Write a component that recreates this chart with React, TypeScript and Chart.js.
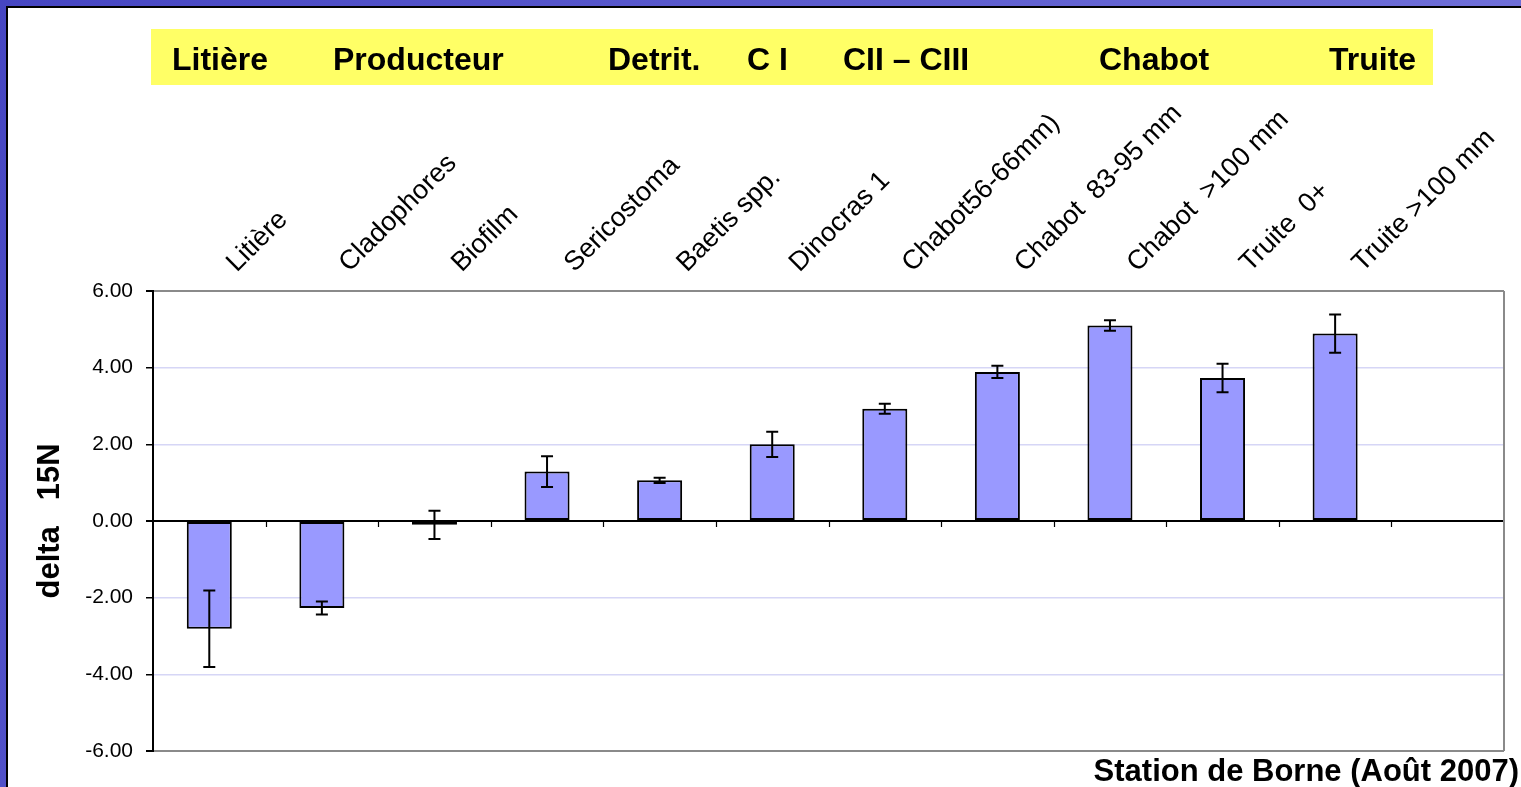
import { useEffect, useRef } from 'react';
import { Chart, registerables } from 'chart.js';

Chart.register(...registerables);

// Taxa sampled, in trophic order (the last slot is left empty)
const categories = [
  'Litière',
  'Cladophores',
  'Biofilm',
  'Sericostoma',
  'Baetis spp.',
  'Dinocras 1',
  'Chabot56-66mm)',
  'Chabot  83-95 mm',
  'Chabot  >100 mm',
  'Truite  0+',
  'Truite >100 mm',
  '',
];

// Mean delta 15N per taxon
const meanValues = [-2.81, -2.27, -0.1, 1.29, 1.06, 2.0, 2.93, 3.89, 5.1, 3.73, 4.89, null];

// Standard deviation per taxon (drawn as error bars)
const errorValues = [1.0, 0.17, 0.37, 0.4, 0.07, 0.33, 0.13, 0.16, 0.14, 0.37, 0.5, null];

// Trophic groups shown in the banner
const groupLabels = ['Litière', 'Producteur', 'Detrit.', 'C I', 'CII – CIII', 'Chabot', 'Truite'];

const yTitle = 'delta   15N';
const stationTitle = 'Station de Borne (Août 2007)';

const W = 1521;
const H = 787;
const FONT = "'Liberation Sans', Arial, Helvetica, sans-serif";

// Horizontal placement of the banner captions
const groupLabelX = [172, 333, 608, 747, 843, 1099, 1329];

const slidePlugin = {
  id: 'slideDecor',
  beforeDraw(chart: any) {
    const { ctx } = chart;
    ctx.save();
    const g = ctx.createLinearGradient(0, 0, W, H);
    g.addColorStop(0, '#4646c2');
    g.addColorStop(1, '#7a7ade');
    ctx.fillStyle = g;
    ctx.fillRect(0, 0, W, H);
    ctx.fillStyle = '#000';
    ctx.fillRect(6, 6, W - 6, H - 6);
    ctx.fillStyle = '#fff';
    ctx.fillRect(8, 8, W - 8, H - 8);

    // group banner
    ctx.fillStyle = '#ffff66';
    ctx.fillRect(151, 29, 1282, 56);
    ctx.fillStyle = '#000';
    ctx.font = `bold 32px ${FONT}`;
    ctx.textBaseline = 'alphabetic';
    ctx.textAlign = 'left';
    groupLabels.forEach((t, i) => ctx.fillText(t, groupLabelX[i], 70));

    // station caption
    ctx.font = `bold 31px ${FONT}`;
    ctx.textAlign = 'right';
    ctx.fillText(stationTitle, 1519, 781);
    ctx.restore();
  },
  afterDatasetsDraw(chart: any) {
    const { ctx, chartArea } = chart;
    const y = chart.scales.y;
    const x = chart.scales.x;
    const meta = chart.getDatasetMeta(0);
    ctx.save();

    // right frame of the plot area
    ctx.strokeStyle = '#8a8a8a';
    ctx.lineWidth = 2;
    ctx.beginPath();
    ctx.moveTo(chartArea.right, chartArea.top);
    ctx.lineTo(chartArea.right, chartArea.bottom);
    ctx.stroke();

    // category tick marks under the zero line
    const y0 = y.getPixelForValue(0);
    const step = (chartArea.right - chartArea.left) / categories.length;
    ctx.strokeStyle = '#000';
    ctx.lineWidth = 1.2;
    ctx.beginPath();
    for (let i = 1; i < categories.length; i++) {
      const px = Math.round(x.getPixelForValue(i) - step / 2) + 0.5;
      ctx.moveTo(px, y0);
      ctx.lineTo(px, y0 + 6);
    }
    ctx.stroke();

    // error bars
    ctx.lineWidth = 2;
    ctx.beginPath();
    meta.data.forEach((bar: any, i: number) => {
      const v = meanValues[i];
      const e = errorValues[i];
      if (v == null || e == null) return;
      const cx = bar.x;
      const yTop = y.getPixelForValue(v + e);
      const yBot = y.getPixelForValue(v - e);
      ctx.moveTo(cx, yTop);
      ctx.lineTo(cx, yBot);
      ctx.moveTo(cx - 6, yTop);
      ctx.lineTo(cx + 6, yTop);
      ctx.moveTo(cx - 6, yBot);
      ctx.lineTo(cx + 6, yBot);
    });
    ctx.stroke();
    ctx.restore();
  },
};

export default function App() {
  const canvasRef = useRef<HTMLCanvasElement | null>(null);

  useEffect(() => {
    const canvas = canvasRef.current;
    if (!canvas) return;
    const chart = new Chart(canvas, {
      type: 'bar',
      data: {
        labels: categories,
        datasets: [
          {
            data: meanValues as any,
            backgroundColor: '#9999ff',
            borderColor: '#000',
            borderWidth: 2,
            borderSkipped: false,
            barPercentage: 0.4,
            categoryPercentage: 1.0,
          },
        ],
      },
      options: {
        responsive: false,
        animation: false,
        devicePixelRatio: 1,
        layout: { padding: { left: 10, right: 17, top: 0, bottom: 36 } },
        plugins: {
          legend: { display: false },
          tooltip: { enabled: false },
          title: { display: false },
        },
        scales: {
          x: {
            position: 'top',
            grid: { display: false },
            border: { display: false },
            ticks: {
              autoSkip: false,
              minRotation: 45,
              maxRotation: 45,
              padding: 4,
              labelOffset: 45,
              color: '#000',
              font: { family: FONT, size: 27 },
            },
            afterFit: (s: any) => {
              s.height = 291;
            },
          },
          y: {
            min: -6,
            max: 6,
            ticks: {
              stepSize: 2,
              padding: 13,
              color: '#000',
              font: { family: FONT, size: 21 },
              callback: (v: any) => Number(v).toFixed(2),
            },
            grid: {
              drawTicks: true,
              tickLength: 7,
              tickColor: '#000',
              lineWidth: (c: any) => (c.tick && (c.tick.value === 0 || Math.abs(c.tick.value) === 6) ? 2 : 1.5),
              color: (c: any) => {
                const v = c.tick ? c.tick.value : null;
                if (v === 0) return '#000';
                if (v === 6 || v === -6) return '#8a8a8a';
                return '#d6d6f6';
              },
            },
            border: { display: true, color: '#000', width: 2 },
            title: {
              display: true,
              text: yTitle,
              color: '#000',
              font: { family: FONT, size: 31, weight: 'bold', lineHeight: 1.2 },
              padding: { top: 22, bottom: 0 },
            },
            afterFit: (s: any) => {
              s.width = 143;
            },
          },
        },
      } as any,
      plugins: [slidePlugin],
    });
    return () => chart.destroy();
  }, []);

  return (
    <div style={{ position: 'fixed', left: 0, top: 0, width: W, height: H, overflow: 'hidden' }}>
      <canvas ref={canvasRef} width={W} height={H} style={{ display: 'block', width: W, height: H }} />
    </div>
  );
}
